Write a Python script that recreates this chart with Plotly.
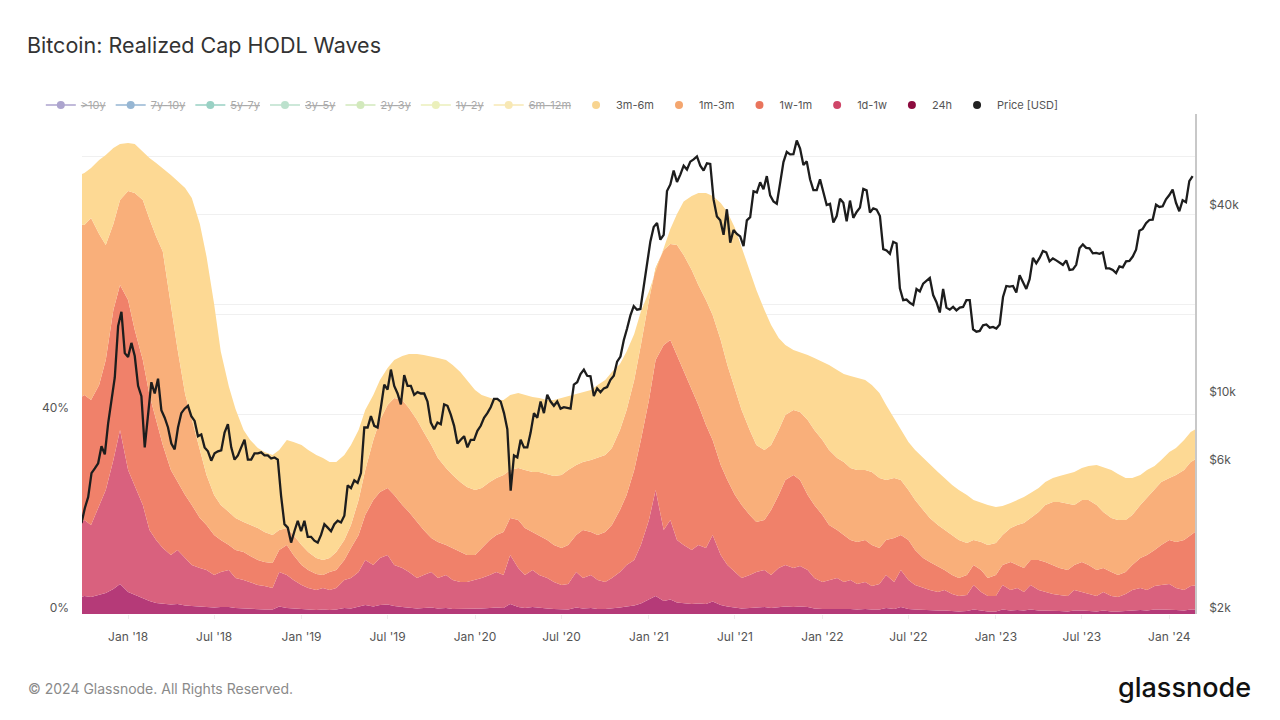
import plotly.graph_objects as go
import pandas as pd

# ---------------- data ----------------
# semi-monthly sample dates (1st and 15th) for the HODL-wave bands
band_dates = pd.date_range("2017-09-15", "2024-03-01", freq="SMS")

# cumulative top of each visible band, in % of realized cap
top_24h = (
    [3.2, 3.6, 3.4, 3.8, 4.2, 5.0, 6.0]
    + [4.4, 3.8, 3.2, 2.6, 2.2, 2.0, 1.9, 2.0, 1.7, 1.6, 1.5, 1.4, 1.3, 1.4, 1.4, 1.2, 1.1, 1.0, 0.9, 0.9, 0.9, 1.5, 1.2, 1.1]
    + [0.9, 0.9, 0.8, 0.9, 0.8, 0.9, 1.2, 1.1, 1.4, 1.8, 1.5, 1.8, 1.9, 1.6, 1.4, 1.3, 1.1, 1.2, 1.3, 1.1, 1.2, 1.0, 1.0, 1.0]
    + [1.0, 1.1, 1.2, 1.3, 1.2, 2.0, 1.4, 1.2, 1.4, 1.2, 1.1, 1.0, 0.9, 0.9, 1.3, 1.1, 1.2, 1.0, 1.0, 1.1, 1.3, 1.5, 1.7, 2.1]
    + [2.9, 3.6, 2.6, 2.9, 2.3, 2.1, 2.0, 2.1, 2.0, 2.5, 1.8, 1.5, 1.3, 1.1, 1.2, 1.3, 1.4, 1.2, 1.4, 1.5, 1.4, 1.5, 1.4, 1.1]
    + [1.0, 1.0, 1.1, 1.0, 1.0, 0.9, 1.0, 0.9, 0.9, 1.2, 1.0, 1.4, 1.0, 0.9, 0.8, 0.7, 0.7, 0.7, 0.6, 0.5, 0.6, 0.9, 0.7, 0.5]
    + [0.5, 0.9, 0.7, 0.8, 0.7, 0.9, 0.7, 0.7, 0.6, 0.6, 0.5, 0.7, 0.7, 0.6, 0.5, 0.7, 0.5, 0.5, 0.6, 0.7, 0.8, 0.7, 0.9, 0.9]
    + [0.9, 0.8, 0.7, 0.9, 0.9]
)
top_1d_1w = (
    [17.8, 18.8, 17.8, 21.8, 24.8, 30.8, 36.8]
    + [28.8, 25.8, 21.8, 16.8, 14.8, 13.2, 11.8, 12.8, 11.2, 9.8, 9.2, 8.8, 7.8, 8.4, 8.8, 7.2, 6.8, 6.4, 5.8, 5.6, 5.2, 8.4, 7.8, 6.8]
    + [5.8, 5.2, 4.8, 5.2, 4.8, 5.2, 6.8, 7.2, 8.4, 10.8, 9.8, 11.2, 11.8, 9.8, 9.2, 8.4, 7.2, 7.8, 8.4, 7.2, 7.8, 6.8, 6.4, 6.4]
    + [6.8, 7.2, 7.8, 8.4, 7.8, 11.8, 9.2, 7.8, 8.8, 7.8, 7.2, 6.4, 5.8, 6.0, 8.4, 7.2, 7.8, 6.8, 6.4, 7.2, 8.4, 9.8, 10.8, 13.8]
    + [18.8, 24.8, 16.8, 18.8, 14.8, 13.8, 12.8, 13.8, 13.2, 15.8, 11.8, 9.8, 8.4, 7.2, 7.8, 8.4, 8.8, 7.8, 9.2, 9.8, 9.2, 9.6, 8.8, 7.2]
    + [6.4, 6.8, 7.2, 6.4, 6.8, 6.0, 6.4, 5.6, 6.0, 7.8, 6.4, 8.8, 6.8, 5.8, 5.2, 4.8, 4.4, 4.8, 4.0, 3.6, 3.8, 5.8, 4.4, 3.6]
    + [3.6, 5.8, 4.8, 5.2, 4.4, 5.8, 4.8, 4.4, 4.0, 3.8, 3.6, 4.8, 4.4, 4.0, 3.6, 4.4, 3.6, 3.4, 4.0, 4.8, 5.2, 4.8, 5.6, 5.8]
    + [6.0, 5.2, 4.8, 5.6, 5.8]
)
top_1w_1m = (
    [42.8, 43.8, 42.8, 45.8, 50.8, 60.8, 65.8]
    + [62.8, 56.8, 50.8, 43.8, 38.8, 33.8, 28.8, 26.4, 23.8, 21.8, 19.2, 17.8, 15.8, 14.8, 13.8, 12.8, 12.4, 11.6, 10.8, 10.4, 10.2, 12.8, 13.8, 11.8]
    + [9.8, 8.8, 8.0, 7.8, 8.4, 8.8, 10.8, 13.2, 15.8, 19.8, 22.8, 24.4, 25.2, 23.8, 21.8, 20.4, 18.4, 16.8, 15.2, 14.4, 13.8, 13.2, 12.4, 11.8]
    + [11.8, 13.2, 14.8, 15.8, 16.4, 19.2, 18.8, 17.2, 16.4, 15.8, 14.8, 13.8, 13.2, 13.8, 15.8, 16.8, 16.4, 15.8, 16.4, 17.8, 20.8, 23.8, 28.8, 34.8]
    + [42.8, 50.8, 53.8, 54.8, 51.8, 48.8, 44.8, 41.8, 37.8, 34.8, 29.8, 26.8, 23.8, 21.8, 19.8, 18.4, 18.8, 20.8, 23.8, 26.8, 27.8, 26.8, 23.8, 21.8]
    + [19.8, 17.8, 16.8, 15.8, 14.8, 14.4, 14.8, 13.8, 13.2, 14.8, 15.2, 15.8, 14.8, 12.8, 11.2, 10.4, 9.6, 8.8, 7.8, 7.2, 7.8, 9.8, 8.8, 7.2]
    + [7.8, 9.8, 10.4, 9.8, 9.2, 10.8, 10.8, 10.4, 9.8, 9.2, 8.8, 9.8, 10.4, 9.8, 8.8, 9.2, 8.4, 7.8, 8.4, 9.8, 11.2, 11.8, 12.8, 13.8]
    + [14.8, 14.4, 14.8, 15.8, 16.8]
)
top_1m_3m = (
    [78.0, 77.8, 79.2, 76.0, 73.8, 78.0, 82.8]
    + [84.6, 84.2, 82.8, 79.0, 75.5, 72.5, 61.8, 53.0, 44.0, 38.8, 32.8, 27.8, 23.8, 21.8, 20.4, 19.2, 18.4, 17.8, 17.2, 16.4, 15.8, 16.8, 17.2, 15.8]
    + [13.8, 12.4, 11.2, 10.8, 11.2, 12.4, 14.8, 17.8, 22.8, 28.8, 34.8, 38.8, 41.8, 43.2, 42.8, 41.2, 38.8, 36.4, 33.8, 31.2, 29.2, 27.8, 26.4, 25.4]
    + [24.8, 25.2, 26.4, 27.2, 27.8, 28.8, 29.2, 28.8, 28.4, 28.4, 28.0, 27.6, 27.8, 28.8, 29.8, 30.4, 30.8, 31.2, 31.8, 33.2, 36.8, 40.8, 46.8, 53.8]
    + [62.8, 69.2, 72.8, 74.0, 73.8, 71.8, 68.8, 65.8, 62.8, 59.8, 54.8, 49.8, 44.8, 40.8, 36.8, 33.8, 32.8, 33.8, 36.8, 39.8, 40.8, 40.4, 38.8, 36.8]
    + [34.8, 32.8, 31.2, 30.4, 29.2, 28.8, 28.8, 28.4, 27.2, 26.8, 27.2, 26.8, 24.8, 22.8, 20.8, 19.2, 17.8, 16.8, 15.8, 14.8, 14.2, 14.8, 14.4, 13.8]
    + [14.2, 15.8, 17.2, 17.8, 18.2, 19.2, 20.4, 21.8, 22.4, 22.4, 22.0, 21.8, 22.8, 22.8, 21.8, 20.4, 19.2, 18.8, 18.8, 19.8, 21.8, 23.2, 24.8, 26.4]
    + [27.2, 27.8, 28.8, 30.4, 31.2]
)
top_3m_6m = (
    [87.6, 88.2, 89.2, 90.8, 91.8, 93.2, 94.0]
    + [94.2, 94.0, 92.4, 91.2, 90.2, 89.2, 87.8, 86.6, 85.2, 83.2, 78.0, 71.5, 62.0, 52.5, 45.5, 41.0, 36.8, 34.8, 33.2, 32.4, 31.8, 32.8, 34.8, 34.4]
    + [33.8, 32.8, 31.8, 31.2, 30.4, 30.4, 31.8, 33.8, 36.8, 40.8, 43.8, 46.8, 49.2, 50.8, 51.6, 52.0, 52.0, 51.8, 51.4, 51.2, 50.8, 49.8, 48.4, 46.8]
    + [44.8, 43.8, 43.2, 42.8, 42.8, 43.8, 44.2, 43.8, 43.4, 43.2, 42.8, 42.8, 43.2, 43.6, 44.0, 44.4, 44.8, 45.8, 46.8, 48.4, 50.0, 52.5, 56.0, 60.5]
    + [64.5, 68.5, 73.0, 77.0, 80.0, 82.5, 83.6, 84.2, 84.2, 83.6, 82.2, 80.4, 77.2, 73.2, 68.4, 64.8, 60.8, 57.8, 55.2, 53.8, 52.8, 52.4, 51.8, 51.2]
    + [50.4, 49.8, 48.8, 48.0, 47.6, 47.2, 46.8, 45.8, 44.2, 41.8, 39.2, 36.8, 34.4, 32.8, 31.2, 29.8, 28.4, 27.2, 25.8, 24.8, 23.8, 22.8, 22.2, 21.8]
    + [21.4, 21.6, 22.2, 22.8, 23.4, 24.2, 25.2, 26.4, 27.2, 27.6, 28.0, 28.4, 29.2, 29.6, 29.8, 29.4, 28.8, 28.0, 27.2, 27.2, 27.8, 28.8, 29.6, 30.8]
    + [32.4, 33.2, 34.8, 36.4, 37.2]
)

# weekly BTC price (USD), Mondays from 2017-09-25
price_2017 = [3930, 4400, 4770, 5700, 5900, 6130, 6960, 6550, 8250, 9700, 11600, 17000, 18900, 13900]
price_2018 = [13500, 15000, 13600, 10900, 10100, 6900, 8900, 11200, 10300, 11500, 9100, 8600, 8000,
              7100, 6800, 8000, 8900, 9200, 9400, 8700, 8400, 7500, 7600, 6900, 6700, 6250,
              6600, 6700, 6750, 7700, 8200, 6900, 6300, 6500, 6900, 7300, 6300, 6300, 6600,
              6600, 6650, 6500, 6500, 6350, 6400, 6300, 4800, 3900, 3800, 3400, 3700, 4000, 3700]
price_2019 = [4000, 3550, 3550, 3450, 3400, 3600, 3900, 3800, 3700, 3900, 4000, 3950,
              4150, 5200, 5100, 5400, 5300, 5700, 8000, 8000, 8700, 8100, 8000, 9300, 11000,
              10600, 12300, 10900, 10300, 9500, 11800, 10900, 10900, 10200, 10400, 10300, 10300, 9700, 8300,
              7900, 8300, 8200, 9500, 9400, 8800, 8100, 7100, 7300, 7500, 6900, 7300, 7300]
price_2020 = [7800, 8100, 8600, 8900, 9300, 9900, 9900, 9700, 8900, 7900, 5000, 6500, 6400,
              7300, 6900, 6900, 7700, 8900, 8600, 9700, 8900, 10200, 9700, 9400, 9700, 9200,
              9300, 9250, 9200, 11000, 11200, 11900, 12300, 11750, 11700, 10100, 10700, 10400, 10700,
              10800, 11400, 11750, 13050, 13550, 15300, 16700, 18400, 19700, 19200, 19300, 22800, 27000]
price_2021 = [31900, 35500, 36600, 32300, 33500, 46400, 48700, 54000, 49600, 52400, 56000, 54400, 57700,
              58700, 60000, 56000, 54000, 57000, 56700, 43500, 38400, 37300, 33500, 40500, 31600, 34700,
              33700, 33100, 30800, 37300, 38200, 46300, 45900, 49500, 47000, 51800, 44900, 42900, 42200,
              49200, 57500, 62000, 60900, 61000, 67500, 63600, 56300, 57800, 50600, 46700, 46700, 50600]
price_2022 = [46400, 41800, 42200, 36700, 38500, 43800, 42500, 37000, 43200, 38000, 39700, 41000, 47100,
              46600, 39500, 40800, 40400, 38500, 30100, 29800, 29100, 31800, 31400, 22500, 20600, 20700,
              20200, 19900, 22400, 22000, 23300, 23800, 24300, 21400, 20300, 18800, 22400, 19500, 19200,
              19600, 19100, 19500, 19600, 20600, 20600, 16600, 16300, 16400, 17100, 17200, 16800, 16900]
price_2023 = [16700, 17200, 21100, 22900, 22800, 22900, 21800, 24800, 23500, 22400, 24100, 28200, 27100,
              28200, 29700, 29400, 27500, 28100, 27700, 27200, 26800, 27700, 25800, 25900, 26800, 30300,
              31200, 30400, 30300, 29200, 29300, 29100, 29400, 26100, 26100, 25800, 25200, 26500, 26300,
              27500, 27600, 28500, 30000, 34500, 35000, 36500, 37400, 37500, 41900, 41200, 41400, 43600]
price_2024 = [45000, 46900, 42500, 39900, 43300, 42700, 49900, 51800]
price_usd = price_2017 + price_2018 + price_2019 + price_2020 + price_2021 + price_2022 + price_2023 + price_2024
price_dates = pd.date_range("2017-09-25", periods=len(price_usd), freq="7D")

# legend entries: (label, colour, shown on chart)
cohorts = [
    (">10y", "#5b4a9e", False),
    ("7y-10y", "#2f6fa8", False),
    ("5y-7y", "#35a48a", False),
    ("3y-5y", "#7cc59c", False),
    ("2y-3y", "#a7d47c", False),
    ("1y-2y", "#d9e27a", False),
    ("6m-12m", "#f2d36c", False),
    ("3m-6m", "#f8d490", True),
    ("1m-3m", "#f4a66f", True),
    ("1w-1m", "#e9745c", True),
    ("1d-1w", "#cf4668", True),
    ("24h", "#8c0b3e", True),
]

# area fill colours (bottom to top)
band_tops = [top_24h, top_1d_1w, top_1w_1m, top_1m_3m, top_3m_6m]
band_names = ["24h", "1d-1w", "1w-1m", "1m-3m", "3m-6m"]
band_fills = ["#b53a78", "#d9617e", "#f0816a", "#f9af7a", "#fdd994"]

FONT = "Inter, Roboto, sans-serif"

# the page body has an 8px margin: the figure is laid out 8px smaller
W, H = 1272, 712

fig = go.Figure()

for i, (top, name, col) in enumerate(zip(band_tops, band_names, band_fills)):
    fig.add_trace(go.Scatter(
        x=band_dates, y=top, name=name, mode="lines",
        line=dict(width=0, color=col, shape="linear"),
        fill="tozeroy" if i == 0 else "tonexty",
        fillcolor=col, showlegend=False, yaxis="y",
    ))

fig.add_trace(go.Scatter(
    x=price_dates, y=price_usd, name="Price [USD]", mode="lines",
    line=dict(color="#1d1d1d", width=2.3), showlegend=False, yaxis="y2",
))

# legend entries
for label, col, shown in cohorts:
    fig.add_trace(go.Scatter(
        x=[None], y=[None],
        name=label if shown else f"<s>{label}</s>",
        mode="markers" if shown else "lines+markers",
        marker=dict(size=8, color=col),
        line=dict(color=col, width=1.5),
        visible=True if shown else "legendonly",
        showlegend=True,
    ))
fig.add_trace(go.Scatter(
    x=[None], y=[None], name="Price [USD]", mode="markers",
    marker=dict(size=8, color="#222222"), showlegend=True,
))

fig.update_layout(
    width=W, height=H,
    margin=dict(l=74, r=85, t=106, b=106),
    paper_bgcolor="white", plot_bgcolor="white",
    font=dict(family=FONT, color="#555555", size=12),
    title=dict(text="Bitcoin: Realized Cap HODL Waves", x=19 / W, xanchor="left",
               y=1 - 37 / H, yanchor="middle",
               font=dict(family=FONT, size=21.5, color="#333333")),
    showlegend=True,
    legend=dict(orientation="h", traceorder="normal",
                x=-0.037, xanchor="left", y=1.018, yanchor="middle",
                font=dict(family=FONT, size=11, color="#555555"),
                bgcolor="rgba(0,0,0,0)", itemclick=False, itemdoubleclick=False),
    xaxis=dict(
        type="date", range=["2017-09-26", "2024-02-24"],
        tick0="2018-01-01", dtick="M6", tickformat="%b '%y",
        showgrid=False, zeroline=False, showline=False,
        ticks="outside", ticklen=4, tickcolor="#eeeeee",
        tickfont=dict(family=FONT, size=12, color="#555555"),
        ticklabelstandoff=8,
    ),
    yaxis=dict(
        range=[0, 100], tickvals=[0, 20, 40, 60, 80, 100],
        ticktext=["0%", "", "40%", "", "", ""],
        showgrid=True, gridcolor="#f0f0f0", gridwidth=1, zeroline=False,
        showline=False, ticks="", ticklabelshift=-6, ticklabelstandoff=12,
        tickfont=dict(family=FONT, size=12, color="#555555"),
    ),
    yaxis2=dict(
        type="log", overlaying="y", side="right",
        range=[3.30103, 4.91494],
        tickvals=[2000, 6000, 10000, 40000], ticktext=["$2k", "$6k", "$10k", "$40k"],
        showgrid=False, zeroline=False,
        minor=dict(tickvals=[20000, 60000], showgrid=True, gridcolor="#f0f0f0", ticks=""),
        showline=True, linecolor="#c8c8c8", linewidth=1.5,
        ticks="", ticklabelshift=-6, ticklabelstandoff=10,
        tickfont=dict(family=FONT, size=12, color="#555555"),
    ),
    annotations=[
        dict(text="© 2024 Glassnode. All Rights Reserved.", xref="paper", yref="paper",
             x=-56 / 1113, y=-74 / 500, xanchor="left", yanchor="middle", showarrow=False,
             font=dict(family=FONT, size=14, color="#8a8a8a")),
        dict(text="glassnode", xref="paper", yref="paper",
             x=1 + 58 / 1113, y=-73 / 500, xanchor="right", yanchor="middle", showarrow=False,
             font=dict(family=FONT, size=27, color="#111111", weight=500)),
    ],
)

fig.write_html("out.html")
